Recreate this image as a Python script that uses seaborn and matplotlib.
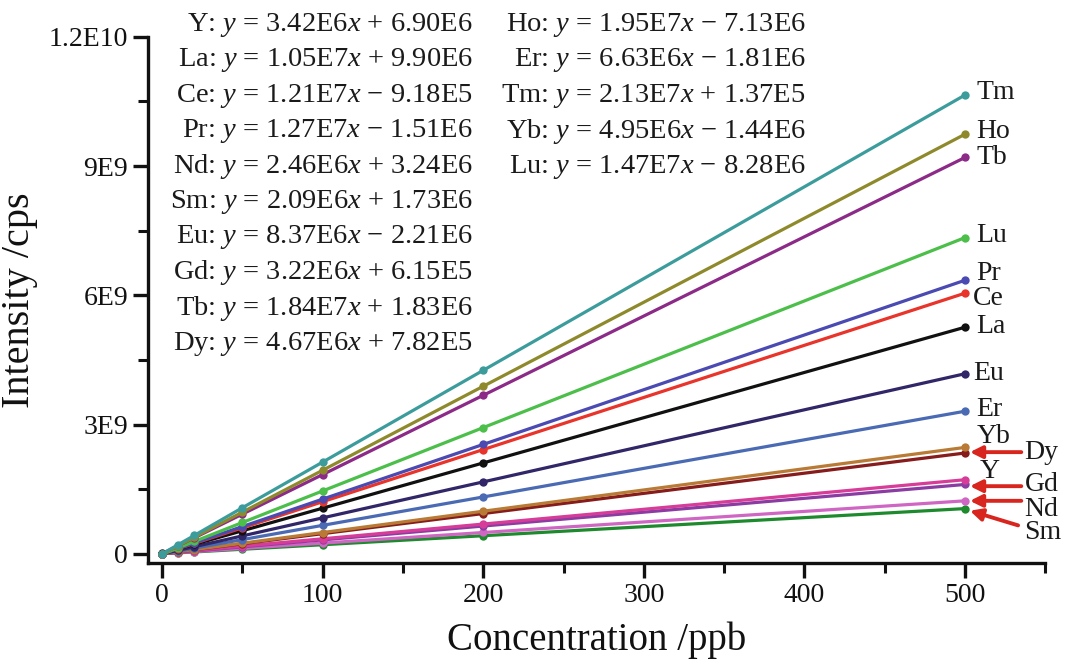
import matplotlib
matplotlib.use("Agg")
import matplotlib.pyplot as plt
import seaborn as sns
import pandas as pd
from matplotlib.ticker import MultipleLocator, FixedLocator, FixedFormatter

# ---- data ----
conc = [0, 10, 20, 50, 100, 200, 500]
elements = ["Y", "La", "Ce", "Pr", "Nd", "Sm", "Eu", "Gd", "Tb", "Dy", "Ho", "Er", "Tm", "Yb", "Lu"]
Y_vals  = [6.90e6, 4.11e7, 7.53e7, 1.78e8, 3.49e8, 6.91e8, 1.72e9]
La_vals = [9.90e6, 1.15e8, 2.20e8, 5.35e8, 1.06e9, 2.11e9, 5.26e9]
Ce_vals = [-9.18e5, 1.20e8, 2.41e8, 6.04e8, 1.21e9, 2.42e9, 6.05e9]
Pr_vals = [-1.51e6, 1.25e8, 2.52e8, 6.33e8, 1.27e9, 2.54e9, 6.35e9]
Nd_vals = [3.24e6, 2.78e7, 5.24e7, 1.26e8, 2.49e8, 4.95e8, 1.23e9]
Sm_vals = [1.73e6, 2.26e7, 4.35e7, 1.06e8, 2.11e8, 4.20e8, 1.05e9]
Eu_vals = [-2.21e6, 8.15e7, 1.65e8, 4.16e8, 8.35e8, 1.67e9, 4.18e9]
Gd_vals = [6.15e5, 3.28e7, 6.50e7, 1.62e8, 3.23e8, 6.45e8, 1.61e9]
Tb_vals = [1.83e6, 1.86e8, 3.70e8, 9.22e8, 1.84e9, 3.68e9, 9.20e9]
Dy_vals = [7.82e5, 4.75e7, 9.42e7, 2.34e8, 4.68e8, 9.35e8, 2.34e9]
Ho_vals = [-7.13e6, 1.88e8, 3.83e8, 9.68e8, 1.94e9, 3.89e9, 9.74e9]
Er_vals = [-1.81e6, 6.45e7, 1.31e8, 3.30e8, 6.61e8, 1.32e9, 3.31e9]
Tm_vals = [1.37e5, 2.13e8, 4.26e8, 1.07e9, 2.13e9, 4.26e9, 1.065e10]
Yb_vals = [-1.44e6, 4.81e7, 9.76e7, 2.46e8, 4.94e8, 9.89e8, 2.47e9]
Lu_vals = [-8.28e6, 1.39e8, 2.86e8, 7.27e8, 1.46e9, 2.93e9, 7.34e9]

series = {"Y": Y_vals, "La": La_vals, "Ce": Ce_vals, "Pr": Pr_vals, "Nd": Nd_vals,
          "Sm": Sm_vals, "Eu": Eu_vals, "Gd": Gd_vals, "Tb": Tb_vals, "Dy": Dy_vals,
          "Ho": Ho_vals, "Er": Er_vals, "Tm": Tm_vals, "Yb": Yb_vals, "Lu": Lu_vals}

eq_left = [
    ("Y", "3.42E6", "+", "6.90E6"), ("La", "1.05E7", "+", "9.90E6"),
    ("Ce", "1.21E7", "\u2212", "9.18E5"), ("Pr", "1.27E7", "\u2212", "1.51E6"),
    ("Nd", "2.46E6", "+", "3.24E6"), ("Sm", "2.09E6", "+", "1.73E6"),
    ("Eu", "8.37E6", "\u2212", "2.21E6"), ("Gd", "3.22E6", "+", "6.15E5"),
    ("Tb", "1.84E7", "+", "1.83E6"), ("Dy", "4.67E6", "+", "7.82E5"),
]
eq_right = [
    ("Ho", "1.95E7", "\u2212", "7.13E6"), ("Er", "6.63E6", "\u2212", "1.81E6"),
    ("Tm", "2.13E7", "+", "1.37E5"), ("Yb", "4.95E6", "\u2212", "1.44E6"),
    ("Lu", "1.47E7", "\u2212", "8.28E6"),
]
xtick_vals = [0, 100, 200, 300, 400, 500]
ytick_vals = [0, 3e9, 6e9, 9e9, 1.2e10]
ytick_labels = ["0", "3E9", "6E9", "9E9", "1.2E10"]

colors = {"Tm": "#3c9c9c", "Ho": "#8e8a2c", "Tb": "#8c2a88", "Lu": "#4cbf4a",
          "Pr": "#4a4ab2", "Ce": "#e8342a", "La": "#111111", "Eu": "#302668",
          "Er": "#4a6ab4", "Yb": "#b87a34", "Dy": "#861c1c", "Y": "#d63c98",
          "Gd": "#8a3ca2", "Nd": "#d066c4", "Sm": "#1e8a2e"}

# ---- style ----
sns.set_theme(style="ticks")
plt.rcParams["font.family"] = ["Liberation Serif", "DejaVu Serif"]
plt.rcParams["mathtext.fontset"] = "custom"
plt.rcParams["mathtext.it"] = "Liberation Serif:italic"
plt.rcParams["mathtext.rm"] = "Liberation Serif"

rows = []
for el in elements:
    for c, v in zip(conc, series[el]):
        rows.append({"Concentration": c, "Intensity": v, "Element": el})
df = pd.DataFrame(rows)

fig = plt.figure(figsize=(10.7, 6.69), dpi=100)
ax = fig.add_axes([0.138, 0.158, 0.839, 0.787])

draw_order = ["Sm", "Nd", "Gd", "Y", "Dy", "Yb", "Er", "Eu", "La", "Ce", "Pr", "Lu", "Tb", "Ho", "Tm"]
sns.lineplot(data=df, x="Concentration", y="Intensity", hue="Element",
             hue_order=draw_order, palette=colors, marker="o", markersize=6,
             markeredgewidth=0, linewidth=2.3, legend=False, ax=ax)

ax.set_xlim(-9, 550)
ax.set_ylim(-2.2e8, 1.2e10)
ax.xaxis.set_major_locator(FixedLocator(xtick_vals))
ax.xaxis.set_minor_locator(MultipleLocator(50))
ax.yaxis.set_major_locator(FixedLocator(ytick_vals))
ax.yaxis.set_major_formatter(FixedFormatter(ytick_labels))
ax.yaxis.set_minor_locator(MultipleLocator(1.5e9))
for s in ["top", "right"]:
    ax.spines[s].set_visible(False)
for s in ["left", "bottom"]:
    ax.spines[s].set_linewidth(2.4)
    ax.spines[s].set_color("#111111")
ax.tick_params(which="major", length=11, width=2.4, labelsize=20, color="#111111", labelcolor="#111111", pad=3)
ax.tick_params(which="minor", length=7, width=2.2, color="#111111")
ax.set_xlabel("Concentration /ppb", fontsize=28, color="#111111", labelpad=10)
ax.set_ylabel("Intensity /cps", fontsize=29, color="#111111", labelpad=8)

# equations
def eq_text(el, slope, sign, inter):
    return f"{el}: $y$ = {slope}$x$ {sign} {inter}"

for i, e in enumerate(eq_left):
    fig.text(473 / 1070, 1 - (25 + i * 35.4) / 669, eq_text(*e), ha="right", va="center",
             fontsize=20.5, color="#1a1a1a")
for i, e in enumerate(eq_right):
    fig.text(806 / 1070, 1 - (25 + i * 35.4) / 669, eq_text(*e), ha="right", va="center",
             fontsize=20.5, color="#1a1a1a")

# end labels
label_pos = {"Tm": (507, 1.07e10), "Ho": (507, 9.8e9), "Tb": (507, 9.2e9), "Lu": (507, 7.38e9),
             "Pr": (507, 6.5e9), "Ce": (505, 5.93e9), "La": (507, 5.28e9), "Eu": (505, 4.18e9),
             "Er": (507, 3.36e9), "Yb": (507, 2.72e9), "Y": (509, 1.9e9)}
for el, (x, y) in label_pos.items():
    ax.text(x, y, el, fontsize=20, ha="left", va="center", color="#1a1a1a")

arrow_label_pos = {"Dy": (537, 2.36e9), "Gd": (537, 1.6e9), "Nd": (537, 1.03e9), "Sm": (537, 0.5e9)}
for el, (tx, ty) in arrow_label_pos.items():
    ax.text(tx, ty, el, fontsize=20, ha="left", va="center", color="#1a1a1a")

arrow_lines = {"Dy": ((535, 2.36e9), (503, 2.36e9)),
               "Gd": ((535, 1.57e9), (503, 1.57e9)),
               "Nd": ((535, 1.23e9), (503, 1.23e9)),
               "Sm": ((533, 0.66e9), (503, 1.0e9))}
for el, (start, end) in arrow_lines.items():
    ax.annotate("", xy=end, xytext=start,
                arrowprops=dict(arrowstyle="-|>,head_length=0.6,head_width=0.3",
                                color="#d8261e", lw=2.8, shrinkA=0, shrinkB=0),
                annotation_clip=False)

fig.savefig("out.png", dpi=100)
